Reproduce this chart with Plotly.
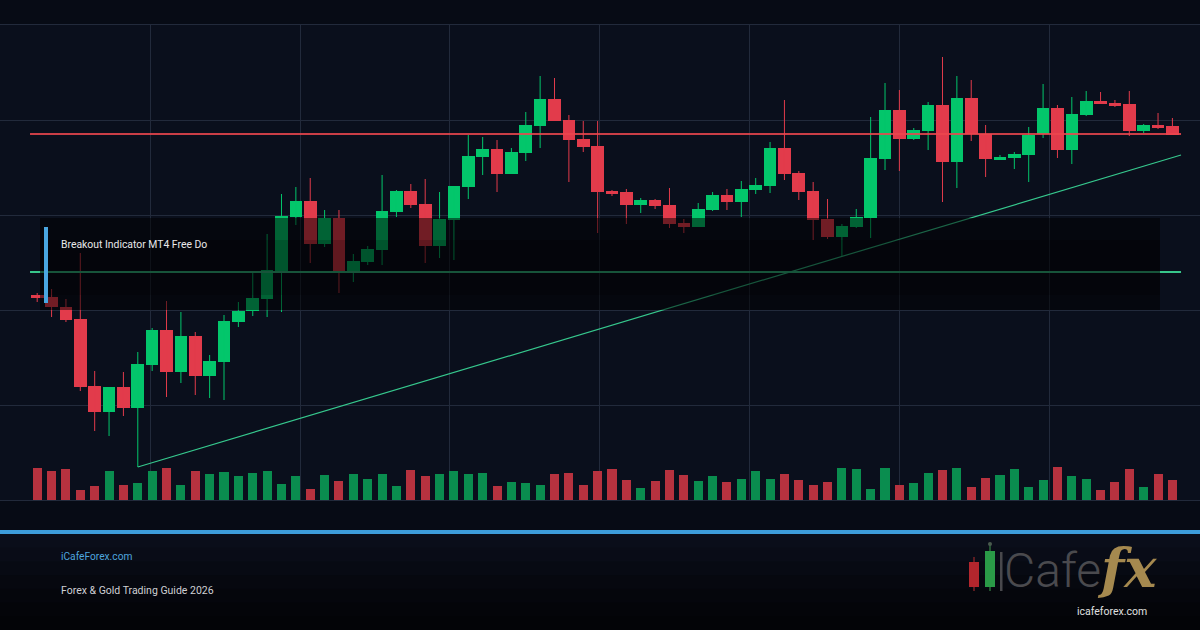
import plotly.graph_objects as go

W, H = 1200, 630

# ---------------- data ----------------
bars = list(range(80))

open_ = [2320.5, 2320.3, 2319.3, 2318.1, 2311.4, 2308.8, 2311.3, 2309.2, 2313.5, 2317.0,
         2312.8, 2316.4, 2312.4, 2313.8, 2317.8, 2318.9, 2320.1, 2322.8, 2328.3, 2329.9,
         2325.6, 2328.2, 2322.8, 2323.8, 2325.0, 2328.8, 2330.9, 2329.6, 2325.4, 2328.0,
         2331.3, 2334.3, 2335.1, 2332.6, 2334.7, 2337.4, 2340.1, 2338.0, 2336.1, 2335.4,
         2330.9, 2330.8, 2329.5, 2330.0, 2329.5, 2327.7, 2327.3, 2329.0, 2330.5, 2329.8,
         2331.0, 2331.4, 2335.2, 2332.7, 2330.9, 2328.1, 2326.3, 2327.3, 2328.2, 2334.1,
         2339.0, 2336.1, 2336.9, 2339.5, 2333.8, 2340.2, 2336.6, 2334.0, 2334.2, 2334.5,
         2336.6, 2339.2, 2335.0, 2338.5, 2339.9, 2339.7, 2339.6, 2336.9, 2337.5, 2337.4]

high = [2320.7, 2321.1, 2320.1, 2324.7, 2312.9, 2311.3, 2312.8, 2314.8, 2317.2, 2319.9,
        2318.8, 2316.8, 2314.5, 2318.5, 2319.8, 2322.7, 2326.6, 2330.6, 2331.3, 2332.2,
        2329.0, 2329.0, 2324.6, 2325.4, 2332.5, 2331.0, 2331.6, 2332.1, 2330.8, 2331.4,
        2336.5, 2336.3, 2336.0, 2335.2, 2338.8, 2342.4, 2342.2, 2338.5, 2337.9, 2337.9,
        2331.0, 2331.1, 2330.2, 2330.1, 2331.2, 2328.1, 2329.7, 2330.8, 2331.1, 2331.9,
        2332.2, 2335.8, 2340.0, 2332.9, 2331.8, 2330.1, 2327.6, 2329.1, 2338.3, 2341.7,
        2341.0, 2337.2, 2339.8, 2344.3, 2342.4, 2342.0, 2337.5, 2334.5, 2334.8, 2337.3,
        2341.6, 2339.5, 2340.3, 2340.9, 2340.8, 2340.0, 2340.9, 2337.6, 2338.7, 2338.2]

low = [2319.8, 2318.3, 2317.8, 2310.9, 2306.9, 2306.4, 2308.4, 2303.3, 2312.9, 2310.3,
       2311.7, 2310.5, 2310.2, 2310.0, 2317.3, 2318.4, 2318.3, 2318.8, 2327.5, 2323.7,
       2325.3, 2320.7, 2321.8, 2323.5, 2323.5, 2328.3, 2329.2, 2323.7, 2324.2, 2324.0,
       2330.1, 2332.5, 2330.8, 2332.6, 2333.9, 2335.2, 2337.9, 2331.8, 2334.8, 2326.7,
       2330.4, 2327.6, 2328.7, 2329.1, 2327.2, 2326.7, 2327.3, 2328.9, 2329.0, 2328.3,
       2330.6, 2330.7, 2332.0, 2330.0, 2326.0, 2326.1, 2324.4, 2327.2, 2326.2, 2333.0,
       2332.9, 2336.0, 2335.0, 2329.8, 2331.2, 2335.9, 2332.3, 2334.0, 2333.1, 2331.8,
       2336.2, 2334.2, 2333.6, 2338.4, 2339.6, 2339.3, 2336.4, 2336.7, 2337.1, 2336.5]

close = [2320.2, 2319.3, 2318.0, 2311.3, 2308.8, 2311.3, 2309.2, 2313.6, 2317.0, 2312.8,
         2316.4, 2312.4, 2313.9, 2317.9, 2318.9, 2320.2, 2323.0, 2328.4, 2329.9, 2325.6,
         2328.2, 2322.9, 2323.9, 2325.1, 2328.9, 2330.9, 2329.5, 2325.4, 2328.1, 2331.4,
         2334.4, 2335.1, 2332.6, 2334.8, 2337.5, 2340.1, 2337.9, 2336.0, 2335.3, 2330.8,
         2330.6, 2329.5, 2330.0, 2329.4, 2327.6, 2327.3, 2329.1, 2330.5, 2329.8, 2331.1,
         2331.5, 2335.2, 2332.6, 2330.8, 2328.0, 2326.3, 2327.4, 2328.3, 2334.2, 2339.0,
         2336.1, 2337.0, 2339.5, 2333.8, 2340.2, 2336.6, 2334.1, 2334.3, 2334.6, 2336.5,
         2339.2, 2335.0, 2338.6, 2339.9, 2339.6, 2339.4, 2336.9, 2337.5, 2337.2, 2336.5]

volume = [3170, 2870, 3070, 970, 1370, 2870, 1470, 1670, 2870, 3170,
          1470, 2870, 2570, 2770, 2370, 2670, 2870, 1570, 2370, 1070,
          2470, 1870, 2570, 2070, 2570, 1370, 2970, 2370, 2570, 2870,
          2570, 2670, 1370, 1770, 1670, 1470, 2570, 2670, 1470, 2870,
          3070, 1970, 1170, 1870, 2970, 2470, 1870, 2370, 1770, 2070,
          2870, 2070, 2570, 1970, 1470, 1770, 3170, 3070, 1070, 3170,
          1470, 1670, 2670, 2970, 3170, 1270, 2170, 2470, 3070, 1270,
          1970, 3270, 2370, 2070, 970, 1770, 3070, 1270, 2570, 1970]

resistance = 2336.6
support = 2322.8
level_x = [-0.5, 79.6]
trend_x = [7, 79.6]
trend_y = [2303.3, 2334.5]

label_text = "Breakout Indicator MT4 Free Do"
site_text = "iCafeForex.com"
guide_text = "Forex & Gold Trading Guide 2026"
logo_word = "Cafe"
logo_fx = "fx"
logo_url = "icafeforex.com"

# ---------------- styles ----------------
UP = "#03c66b"
DOWN = "#e23b4b"
VOL_UP = "#0a8d4f"
VOL_DOWN = "#b7323f"
GRID = "#222a3b"
PAPER = "#070b15"
PLOT = "#0a0f1c"


def px(x):
    return x / W


def py(y):
    return 1 - y / H


up_i = [i for i in bars if close[i] >= open_[i]]
dn_i = [i for i in bars if close[i] < open_[i]]

fig = go.Figure()

# volume (overlaying price axis, scaled to the bottom strip)
fig.add_trace(go.Bar(
    x=bars, y=volume, width=0.63,
    marker=dict(color=[VOL_UP if close[i] >= open_[i] else VOL_DOWN for i in bars],
                line=dict(width=0)),
    xaxis="x", yaxis="y2", hoverinfo="skip"))

# candle bodies
for ids, col in ((up_i, UP), (dn_i, DOWN)):
    fig.add_trace(go.Bar(
        x=ids,
        base=[min(open_[i], close[i]) for i in ids],
        y=[abs(close[i] - open_[i]) for i in ids],
        width=0.88, marker=dict(color=col, line=dict(width=0)),
        xaxis="x", yaxis="y", hoverinfo="skip"))

# wicks
for ids, col in ((up_i, UP), (dn_i, DOWN)):
    wx, wy = [], []
    for i in ids:
        wx += [i, i, None]
        wy += [low[i], high[i], None]
    fig.add_trace(go.Scatter(x=wx, y=wy, mode="lines",
                             line=dict(color=col, width=1),
                             xaxis="x", yaxis="y", hoverinfo="skip"))

# support, trend, resistance
fig.add_trace(go.Scatter(x=level_x, y=[support, support], mode="lines",
                         line=dict(color="#38c68b", width=2),
                         xaxis="x", yaxis="y", hoverinfo="skip"))
fig.add_trace(go.Scatter(x=trend_x, y=trend_y, mode="lines",
                         line=dict(color="#36c88d", width=1.2),
                         xaxis="x", yaxis="y", hoverinfo="skip"))
fig.add_trace(go.Scatter(x=level_x, y=[resistance, resistance], mode="lines",
                         line=dict(color="rgba(236,70,78,0.85)", width=2),
                         xaxis="x", yaxis="y", hoverinfo="skip"))

shapes = []
# footer gradient
footer_cols = ["#0a0e1a", "#090c17", "#070a13", "#06080f", "#05060c", "#040509", "#030407"]
band = (H - 534) / len(footer_cols)
for k, c in enumerate(footer_cols):
    shapes.append(dict(type="rect", xref="paper", yref="paper", layer="below",
                       x0=0, x1=1, y0=py(534 + k * band), y1=py(534 + (k + 1) * band + 0.5),
                       fillcolor=c, line=dict(width=0)))
# separator line
shapes.append(dict(type="rect", xref="paper", yref="paper", layer="above",
                   x0=0, x1=1, y0=py(534), y1=py(530),
                   fillcolor="#3d9ddb", line=dict(width=0)))
# indicator box
shapes.append(dict(type="rect", xref="paper", yref="paper", layer="above",
                   x0=px(40), x1=px(1160), y0=py(310), y1=py(218),
                   fillcolor="rgba(0,0,0,0.5)", line=dict(width=0)))
shapes.append(dict(type="rect", xref="paper", yref="paper", layer="above",
                   x0=px(40), x1=px(1160), y0=py(295), y1=py(240),
                   fillcolor="rgba(0,0,0,0.15)", line=dict(width=0)))
shapes.append(dict(type="rect", xref="paper", yref="paper", layer="above",
                   x0=px(44), x1=px(48), y0=py(303), y1=py(227),
                   fillcolor="#4aa6e0", line=dict(width=0)))
# logo candles
shapes += [
    dict(type="line", xref="paper", yref="paper", layer="above",
         x0=px(974), x1=px(974), y0=py(591), y1=py(557), line=dict(color="#7a2226", width=1.5)),
    dict(type="rect", xref="paper", yref="paper", layer="above",
         x0=px(969), x1=px(979), y0=py(587), y1=py(562), fillcolor="#b3262d", line=dict(width=0)),
    dict(type="line", xref="paper", yref="paper", layer="above",
         x0=px(990), x1=px(990), y0=py(591), y1=py(544), line=dict(color="#2d6a3a", width=1.5)),
    dict(type="circle", xref="paper", yref="paper", layer="above",
         x0=px(988), x1=px(992), y0=py(546), y1=py(542), fillcolor="#4a5a4e", line=dict(width=0)),
    dict(type="rect", xref="paper", yref="paper", layer="above",
         x0=px(985), x1=px(995), y0=py(587), y1=py(551), fillcolor="#2a9a47", line=dict(width=0)),
    dict(type="rect", xref="paper", yref="paper", layer="above",
         x0=px(1000), x1=px(1002.5), y0=py(591), y1=py(552), fillcolor="#48484c", line=dict(width=0)),
]

logo_text = (logo_word +
             "<span style='font-family:DejaVu Serif;font-size:54px;fill:#a5894f;"
             "font-weight:bold;font-style:italic'>" + logo_fx + "</span>")

annotations = [
    dict(text=label_text, xref="paper", yref="paper", x=px(58.5), y=py(245),
         xanchor="left", yanchor="middle", showarrow=False,
         font=dict(family="Roboto", size=10.4, color="#e8e8ea")),
    dict(text=site_text, xref="paper", yref="paper", x=px(58.5), y=py(556),
         xanchor="left", yanchor="middle", showarrow=False,
         font=dict(family="Roboto", size=10.2, color="#4ea6df")),
    dict(text=guide_text, xref="paper", yref="paper", x=px(58.5), y=py(590),
         xanchor="left", yanchor="middle", showarrow=False,
         font=dict(family="Roboto", size=10.5, color="#cfd0d4")),
    dict(text=logo_text, xref="paper", yref="paper", x=px(1002), y=py(568),
         xanchor="left", yanchor="middle", showarrow=False,
         font=dict(family="Roboto", size=48, color="#4a4a4e", weight=300)),
    dict(text=logo_url, xref="paper", yref="paper", x=px(1112), y=py(611),
         xanchor="center", yanchor="middle", showarrow=False,
         font=dict(family="Roboto", size=10.5, color="#e0e0e0")),
]

PRICE_RANGE = [2300, 2347.5]
VOL_RANGE = [0, 47500]

fig.update_layout(
    width=W, height=H,
    margin=dict(l=0, r=0, t=0, b=0),
    paper_bgcolor=PAPER, plot_bgcolor=PLOT,
    showlegend=False, barmode="overlay", bargap=0,
    xaxis=dict(domain=[0, 1], range=[-2.589, 80.92], anchor="y",
               tickmode="linear", tick0=7.85, dtick=10.438,
               showgrid=True, gridcolor=GRID, gridwidth=1,
               showticklabels=False, ticks="", zeroline=False,
               showline=True, linecolor=GRID, linewidth=1, mirror=True,
               fixedrange=True),
    yaxis=dict(domain=[130 / H, 605 / H], range=PRICE_RANGE, anchor="x",
               tickmode="linear", tick0=2300, dtick=9.5,
               showgrid=True, gridcolor=GRID, gridwidth=1,
               showticklabels=False, ticks="", zeroline=False, showline=False,
               fixedrange=True),
    yaxis2=dict(overlaying="y", range=VOL_RANGE, anchor="x",
                visible=False, showgrid=False, fixedrange=True),
    shapes=shapes,
    annotations=annotations,
)

fig.write_html("out.html")
